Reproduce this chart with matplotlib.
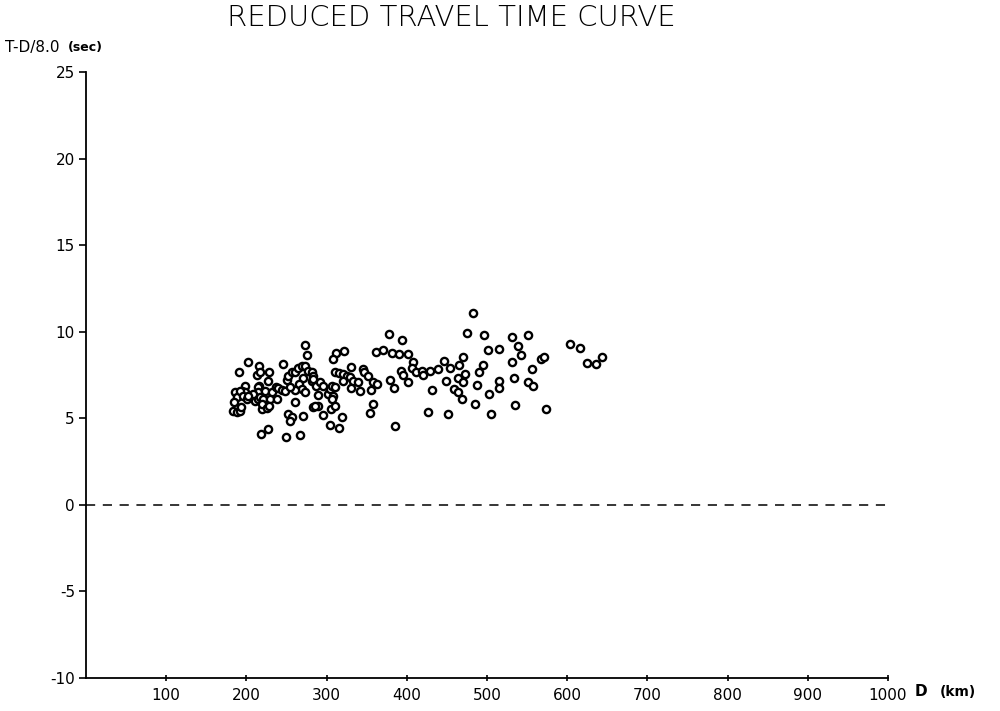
import matplotlib
matplotlib.use("Agg")
import matplotlib.pyplot as plt

# distance (km) and reduced time T-D/8.0 (sec)
dist = [
    191, 198, 195, 186, 188, 185, 183, 188, 192, 201, 198, 202,
    192, 193, 196, 201, 207, 211, 214, 221, 219, 216,
    216, 213, 217, 228, 246, 227, 214, 214, 208, 202, 217, 221, 229, 238,
    219, 226, 228, 223, 232, 237, 239, 218, 227, 244, 248,
    251, 252, 257, 261, 264, 269, 273, 277, 282, 271, 282, 266, 269, 273,
    261, 254, 261, 252, 257, 254, 271, 249, 267, 283, 273, 276, 283, 283,
    287, 292, 296, 289, 289, 286, 296,
    302, 304, 307, 310, 308, 307, 305, 310, 304, 315, 319, 312, 308, 322,
    310, 315, 320, 325, 330, 329, 333, 339, 320, 330, 342, 345, 347, 352,
    358, 363, 355, 358, 354,
    362, 370, 378, 394, 382, 390, 401, 408, 406, 411, 419, 420, 429, 439,
    446, 454, 393, 395, 401, 379, 384, 449, 431, 459, 426, 451, 385,
    483, 475, 496, 531, 551, 501, 515, 539, 542, 531, 470, 465, 495, 490,
    473, 464, 470, 488, 515, 515, 534, 551, 464, 502, 469, 485, 535, 505,
    603, 616, 625, 636, 643, 567, 571, 556, 557, 574,
]
tred = [
    7.68, 6.87, 6.58, 6.52, 6.24, 5.95, 5.43, 5.37, 5.43, 6.24, 6.52, 8.26,
    6.58, 5.66, 6.29, 6.12, 6.24, 6.00, 6.12, 5.95, 5.54, 6.87,
    8.03, 7.51, 7.68, 7.68, 8.14, 7.16, 6.81, 6.52, 6.41, 6.29, 6.24, 6.12, 6.12, 6.12,
    5.83, 5.60, 5.72, 6.58, 6.52, 6.81, 6.76, 4.10, 4.39, 6.64, 6.58,
    7.22, 7.45, 7.68, 7.68, 7.91, 8.03, 8.03, 7.74, 7.68, 7.33, 7.16, 6.99, 6.70, 6.52,
    6.64, 6.81, 5.95, 5.25, 5.08, 4.85, 5.14, 3.93, 4.04, 5.66, 9.24, 8.66, 7.45, 7.27,
    6.87, 7.10, 6.87, 6.35, 5.72, 5.72, 5.20,
    6.41, 6.70, 6.87, 6.81, 6.29, 6.12, 5.54, 5.72, 4.62, 4.45, 5.08, 8.78, 8.43, 8.89,
    7.67, 7.62, 7.56, 7.45, 7.97, 7.39, 7.16, 7.10, 7.16, 6.76, 6.58, 7.85, 7.68, 7.45,
    7.10, 6.99, 6.64, 5.83, 5.31,
    8.83, 8.95, 9.87, 9.53, 8.78, 8.72, 8.72, 8.26, 7.91, 7.68, 7.74, 7.51, 7.74, 7.85,
    8.31, 7.91, 7.74, 7.51, 7.10, 7.22, 6.76, 7.16, 6.64, 6.70, 5.37, 5.25, 4.56,
    11.09, 9.93, 9.82, 9.70, 9.82, 8.95, 9.01, 9.18, 8.66, 8.26, 8.55, 8.08, 8.08, 7.68,
    7.56, 7.33, 7.10, 6.93, 7.16, 6.76, 7.33, 7.10, 6.52, 6.41, 6.12, 5.83, 5.77, 5.25,
    9.30, 9.06, 8.20, 8.14, 8.55, 8.43, 8.55, 7.85, 6.87, 5.54,
]

xticks = [100, 200, 300, 400, 500, 600, 700, 800, 900, 1000]
yticks = [-10, -5, 0, 5, 10, 15, 20, 25]

fig = plt.figure(figsize=(10, 7.11), dpi=100)
ax = fig.add_axes([0.086, 0.0464, 0.802, 0.8523])

ax.plot(dist, tred, linestyle="none", marker="o", markersize=5.2,
        markerfacecolor="white", markeredgecolor="black", markeredgewidth=1.7)
ax.plot([0, 1000], [0, 0], color="black", linestyle=(0, (6, 5)), linewidth=1.1)

ax.set_xlim(0, 1000)
ax.set_ylim(-10, 25)
ax.set_xticks(xticks)
ax.set_yticks(yticks)
ax.set_xticklabels([str(v) for v in xticks])
ax.set_yticklabels([str(v) for v in yticks])

for s in ["top", "right"]:
    ax.spines[s].set_visible(False)
for s in ["left", "bottom"]:
    ax.spines[s].set_linewidth(1.3)

ax.tick_params(axis="y", direction="out", length=5, width=1.2, labelsize=11, pad=3)
ax.tick_params(axis="x", direction="inout", length=5, width=1.2, labelsize=11, pad=5)

fig.text(0.451, 0.975, "REDUCED TRAVEL TIME CURVE", ha="center", va="center",
         fontsize=21, fontweight="light", family="DejaVu Sans")
fig.text(0.005, 0.933, "T-D/8.0", ha="left", va="center", fontsize=11)
fig.text(0.068, 0.933, "(sec)", ha="left", va="center", fontsize=9, fontweight="bold")
fig.text(0.915, 0.027, "D", ha="left", va="center", fontsize=11, fontweight="bold")
fig.text(0.940, 0.027, "(km)", ha="left", va="center", fontsize=10, fontweight="bold")

fig.savefig("out.png", dpi=100, facecolor="white")
